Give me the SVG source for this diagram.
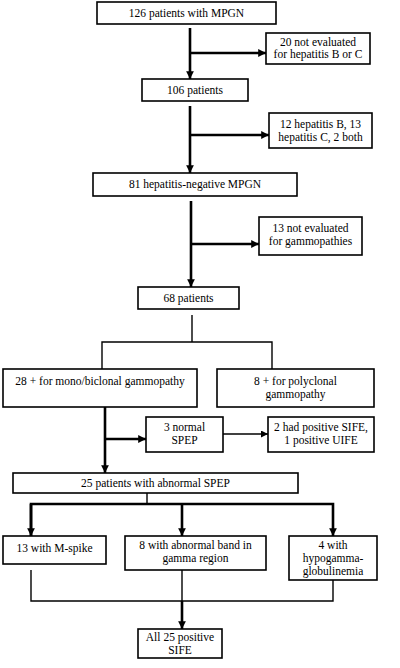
<svg xmlns="http://www.w3.org/2000/svg" width="400" height="668" viewBox="0 0 400 668">
<style>
.box{fill:#fff;stroke:#000;stroke-width:1.6}
text{font-family:'Liberation Serif','Times New Roman','DejaVu Serif',serif;font-size:11.5px;fill:#000;text-anchor:middle}
.thick{stroke:#000;stroke-width:2.6;fill:none}
.thin{stroke:#000;stroke-width:1.4;fill:none}
</style>
<defs>
<marker id="ah" viewBox="0 0 10 10" refX="10" refY="5" markerWidth="3" markerHeight="3" orient="auto" markerUnits="strokeWidth">
<path d="M0,0 L10,5 L0,10 z" fill="#000"/>
</marker>
<marker id="ahs" viewBox="0 0 10 10" refX="10" refY="5" markerWidth="5" markerHeight="5" orient="auto" markerUnits="strokeWidth">
<path d="M0,0 L10,5 L0,10 z" fill="#000"/>
</marker>
</defs>
<rect width="400" height="668" fill="#fff"/>
<g id="connectors">
<line class="thick" x1="190" y1="28" x2="190" y2="79" marker-end="url(#ah)"/>
<line class="thick" x1="190" y1="53" x2="266" y2="53" marker-end="url(#ah)"/>
<line class="thick" x1="190" y1="106" x2="190" y2="173" marker-end="url(#ah)"/>
<line class="thick" x1="190" y1="135" x2="269" y2="135" marker-end="url(#ah)"/>
<line class="thick" x1="191" y1="201" x2="191" y2="287" marker-end="url(#ah)"/>
<line class="thick" x1="191" y1="244" x2="259" y2="244" marker-end="url(#ah)"/>
<polyline class="thin" points="192,315 192,342"/>
<polyline class="thin" points="102,369 102,342 272,342 272,369"/>
<line class="thick" x1="105" y1="407" x2="105" y2="473" marker-end="url(#ah)"/>
<line class="thick" x1="105" y1="439" x2="146" y2="439" marker-end="url(#ah)"/>
<line class="thin" x1="223" y1="434" x2="268" y2="434" marker-end="url(#ahs)"/>
<line class="thin" x1="147" y1="493" x2="147" y2="504"/>
<polyline class="thick" points="31,536 31,504 333,504 333,536" marker-end="url(#ah)"/>
<line class="thick" x1="31" y1="504" x2="31" y2="536" marker-end="url(#ah)"/>
<line class="thick" x1="182" y1="504" x2="182" y2="536" marker-end="url(#ah)"/>
<polyline class="thin" points="31,570 31,601 333,601 333,580"/>
<line class="thin" x1="182" y1="570" x2="182" y2="601"/>
<line class="thick" x1="182" y1="601" x2="182" y2="629" marker-end="url(#ah)"/>
</g>
<g id="n1"><rect class="box" x="97" y="2" width="179" height="22"/><text x="186.5" y="17">126 patients with MPGN</text></g>
<g id="n2"><rect class="box" x="266" y="33" width="104" height="31"/><text x="318" y="46">20 not evaluated</text><text x="318" y="58">for hepatitis B or C</text></g>
<g id="n3"><rect class="box" x="142" y="79" width="106" height="22"/><text x="195" y="94">106 patients</text></g>
<g id="n4"><rect class="box" x="269" y="113" width="103" height="35"/><text x="320.5" y="128">12 hepatitis B, 13</text><text x="320.5" y="141">hepatitis C, 2 both</text></g>
<g id="n5"><rect class="box" x="93" y="173" width="204" height="23"/><text x="195" y="188">81 hepatitis-negative MPGN</text></g>
<g id="n6"><rect class="box" x="259" y="217" width="103" height="38"/><text x="310.5" y="232">13 not evaluated</text><text x="310.5" y="245">for gammopathies</text></g>
<g id="n7"><rect class="box" x="138" y="287" width="101" height="22"/><text x="188.5" y="302">68 patients</text></g>
<g id="n8"><rect class="box" x="3" y="369" width="194" height="38"/><text x="100" y="385">28 + for mono/biclonal gammopathy</text></g>
<g id="n9"><rect class="box" x="217" y="369" width="157" height="38"/><text x="295.5" y="385">8 + for polyclonal</text><text x="295.5" y="398">gammopathy</text></g>
<g id="n10"><rect class="box" x="146" y="417" width="77" height="35"/><text x="184.5" y="431">3 normal</text><text x="184.5" y="444">SPEP</text></g>
<g id="n11"><rect class="box" x="268" y="417" width="106" height="35"/><text x="321" y="431">2 had positive SIFE,</text><text x="321" y="444">1 positive UIFE</text></g>
<g id="n12"><rect class="box" x="13" y="473" width="285" height="20"/><text x="155.5" y="487">25 patients with abnormal SPEP</text></g>
<g id="n13"><rect class="box" x="3" y="536" width="103" height="28"/><text x="54.5" y="552">13 with M-spike</text></g>
<g id="n14"><rect class="box" x="125" y="536" width="141" height="34"/><text x="195.5" y="549">8 with abnormal band in</text><text x="195.5" y="562">gamma region</text></g>
<g id="n15"><rect class="box" x="289" y="536" width="88" height="44"/><text x="333" y="549">4 with</text><text x="333" y="562">hypogamma-</text><text x="333" y="575">globulinemia</text></g>
<g id="n16"><rect class="box" x="138" y="629" width="84" height="29"/><text x="180" y="641">All 25 positive</text><text x="180" y="654">SIFE</text></g>
</svg>
